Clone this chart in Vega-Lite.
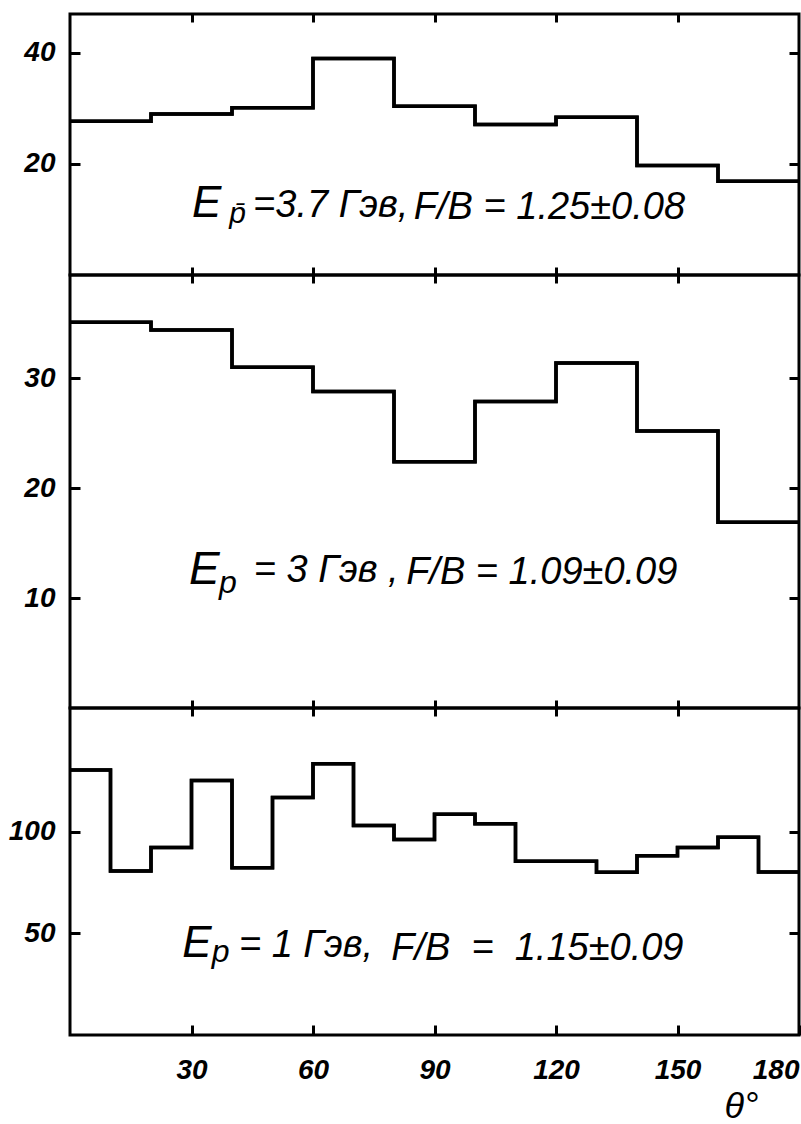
{
  "$schema": "https://vega.github.io/schema/vega-lite/v6.json",
  "background": "white",
  "padding": {"left": 6, "top": 11, "right": 0, "bottom": 12},
  "spacing": 0,
  "bounds": "flush",
  "datasets": {
    "top": [
      {"theta": 0, "n": 27.7}, {"theta": 20, "n": 29.0}, {"theta": 40, "n": 30.1},
      {"theta": 60, "n": 39.0}, {"theta": 80, "n": 30.4}, {"theta": 100, "n": 27.1},
      {"theta": 120, "n": 28.4}, {"theta": 140, "n": 19.7}, {"theta": 160, "n": 16.9},
      {"theta": 180, "n": 16.9}
    ],
    "mid": [
      {"theta": 0, "n": 35.1}, {"theta": 20, "n": 34.4}, {"theta": 40, "n": 31.0},
      {"theta": 60, "n": 28.8}, {"theta": 80, "n": 22.4}, {"theta": 100, "n": 27.9},
      {"theta": 120, "n": 31.4}, {"theta": 140, "n": 25.2}, {"theta": 160, "n": 16.9},
      {"theta": 180, "n": 16.9}
    ],
    "bot": [
      {"theta": 0, "n": 130.5}, {"theta": 10, "n": 80.7}, {"theta": 20, "n": 92.3},
      {"theta": 30, "n": 125.3}, {"theta": 40, "n": 82.3}, {"theta": 50, "n": 116.9},
      {"theta": 60, "n": 133.6}, {"theta": 70, "n": 103.1}, {"theta": 80, "n": 96.3},
      {"theta": 90, "n": 108.7}, {"theta": 100, "n": 104.0}, {"theta": 110, "n": 85.5},
      {"theta": 120, "n": 85.5}, {"theta": 130, "n": 80.1}, {"theta": 140, "n": 88.3},
      {"theta": 150, "n": 92.3}, {"theta": 160, "n": 97.4}, {"theta": 170, "n": 80.3},
      {"theta": 180, "n": 80.3}
    ]
  },
  "config": {
    "view": {"stroke": "black", "strokeWidth": 3},
    "axis": {
      "grid": false, "domain": false, "tickColor": "black", "tickWidth": 3,
      "labelColor": "black", "labelFont": "Liberation Sans",
      "labelFontSize": 28, "labelFontStyle": "italic", "labelFontWeight": "bold"
    },
    "text": {"font": "Liberation Sans", "fontStyle": "italic", "color": "black", "align": "left", "baseline": "alphabetic"}
  },
  "vconcat": [
    {
      "width": 729, "height": 261,
      "layer": [
        {
          "data": {"name": "top"},
          "mark": {"type": "line", "interpolate": "step-after", "color": "black", "strokeWidth": 3.5, "strokeJoin": "miter"},
          "encoding": {
            "x": {"field": "theta", "type": "quantitative", "scale": {"domain": [0, 180], "nice": false, "zero": false},
                  "axis": {"orient": "bottom", "values": [30, 60, 90, 120, 150], "labels": false, "tickSize": -8, "title": null}},
            "y": {"field": "n", "type": "quantitative", "scale": {"domain": [0, 47], "nice": false},
                  "axis": {"orient": "left", "values": [20, 40], "tickSize": -10, "labelPadding": 25, "title": null}}
          }
        },
        {
          "data": {"name": "top"},
          "mark": {"type": "line", "interpolate": "step-after", "color": "black", "strokeWidth": 3.5, "strokeJoin": "miter"},
          "encoding": {
            "x": {"field": "theta", "type": "quantitative", "scale": {"domain": [0, 180], "nice": false, "zero": false},
                  "axis": {"orient": "top", "values": [30, 60, 90, 120, 150], "labels": false, "tickSize": -8, "title": null}},
            "y": {"field": "n", "type": "quantitative", "scale": {"domain": [0, 47], "nice": false},
                  "axis": {"orient": "right", "values": [20, 40], "labels": false, "tickSize": -10, "title": null}}
          }
        },
        {
          "data": {"values": [{}]},
          "mark": {"type": "text", "text": "E", "fontSize": 44},
          "encoding": {"x": {"datum": 30.1, "type": "quantitative", "axis": null}, "y": {"datum": 10.45, "type": "quantitative", "axis": null}}
        },
        {
          "data": {"values": [{}]},
          "mark": {"type": "text", "text": "p̄", "fontSize": 30},
          "encoding": {"x": {"datum": 39.3, "type": "quantitative", "axis": null}, "y": {"datum": 9.4, "type": "quantitative", "axis": null}}
        },
        {
          "data": {"values": [{}]},
          "mark": {"type": "text", "text": "=3.7 Гэв,", "fontSize": 38},
          "encoding": {"x": {"datum": 45.2, "type": "quantitative", "axis": null}, "y": {"datum": 10.45, "type": "quantitative", "axis": null}}
        },
        {
          "data": {"values": [{}]},
          "mark": {"type": "text", "text": "F/B = 1.25±0.08", "fontSize": 38},
          "encoding": {"x": {"datum": 84.9, "type": "quantitative", "axis": null}, "y": {"datum": 10.1, "type": "quantitative", "axis": null}}
        }
      ],
      "resolve": {"axis": {"x": "independent", "y": "independent"}}
    },
    {
      "width": 729, "height": 433,
      "layer": [
        {
          "data": {"name": "mid"},
          "mark": {"type": "line", "interpolate": "step-after", "color": "black", "strokeWidth": 3.5, "strokeJoin": "miter"},
          "encoding": {
            "x": {"field": "theta", "type": "quantitative", "scale": {"domain": [0, 180], "nice": false, "zero": false},
                  "axis": {"orient": "bottom", "values": [30, 60, 90, 120, 150], "labels": false, "tickSize": -8, "title": null}},
            "y": {"field": "n", "type": "quantitative", "scale": {"domain": [0, 39.4], "nice": false},
                  "axis": {"orient": "left", "values": [10, 20, 30], "tickSize": -10, "labelPadding": 25, "title": null}}
          }
        },
        {
          "data": {"name": "mid"},
          "mark": {"type": "line", "interpolate": "step-after", "color": "black", "strokeWidth": 3.5, "strokeJoin": "miter"},
          "encoding": {
            "x": {"field": "theta", "type": "quantitative", "scale": {"domain": [0, 180], "nice": false, "zero": false},
                  "axis": {"orient": "top", "values": [30, 60, 90, 120, 150], "labels": false, "tickSize": -8, "title": null}},
            "y": {"field": "n", "type": "quantitative", "scale": {"domain": [0, 39.4], "nice": false},
                  "axis": {"orient": "right", "values": [10, 20, 30], "labels": false, "tickSize": -10, "title": null}}
          }
        },
        {
          "data": {"values": [{}]},
          "mark": {"type": "text", "text": "E", "fontSize": 46},
          "encoding": {"x": {"datum": 29.4, "type": "quantitative", "axis": null}, "y": {"datum": 11.3, "type": "quantitative", "axis": null}}
        },
        {
          "data": {"values": [{}]},
          "mark": {"type": "text", "text": "p", "fontSize": 32},
          "encoding": {"x": {"datum": 36.8, "type": "quantitative", "axis": null}, "y": {"datum": 10.5, "type": "quantitative", "axis": null}}
        },
        {
          "data": {"values": [{}]},
          "mark": {"type": "text", "text": "= 3 Гэв ,", "fontSize": 38},
          "encoding": {"x": {"datum": 45.4, "type": "quantitative", "axis": null}, "y": {"datum": 11.45, "type": "quantitative", "axis": null}}
        },
        {
          "data": {"values": [{}]},
          "mark": {"type": "text", "text": "F/B = 1.09±0.09", "fontSize": 38},
          "encoding": {"x": {"datum": 83, "type": "quantitative", "axis": null}, "y": {"datum": 11.3, "type": "quantitative", "axis": null}}
        }
      ],
      "resolve": {"axis": {"x": "independent", "y": "independent"}}
    },
    {
      "width": 729, "height": 327,
      "layer": [
        {
          "data": {"name": "bot"},
          "mark": {"type": "line", "interpolate": "step-after", "color": "black", "strokeWidth": 3.5, "strokeJoin": "miter"},
          "encoding": {
            "x": {"field": "theta", "type": "quantitative", "scale": {"domain": [0, 180], "nice": false, "zero": false},
                  "axis": {"orient": "bottom", "values": [30, 60, 90, 120, 150, 180], "labelFlush": true, "tickSize": -10, "labelPadding": 31,
                           "title": "θ°", "titleFont": "Liberation Sans", "titleFontSize": 36, "titleFontStyle": "italic", "titleFontWeight": "normal",
                           "titleX": 654, "titleY": 82, "titleAlign": "left", "titleBaseline": "alphabetic", "titleColor": "black"}},
            "y": {"field": "n", "type": "quantitative", "scale": {"domain": [0, 161], "nice": false},
                  "axis": {"orient": "left", "values": [50, 100], "tickSize": -10, "labelPadding": 25, "title": null}}
          }
        },
        {
          "data": {"name": "bot"},
          "mark": {"type": "line", "interpolate": "step-after", "color": "black", "strokeWidth": 3.5, "strokeJoin": "miter"},
          "encoding": {
            "x": {"field": "theta", "type": "quantitative", "scale": {"domain": [0, 180], "nice": false, "zero": false},
                  "axis": {"orient": "top", "values": [30, 60, 90, 120, 150], "labels": false, "tickSize": -8, "title": null}},
            "y": {"field": "n", "type": "quantitative", "scale": {"domain": [0, 161], "nice": false},
                  "axis": {"orient": "right", "values": [50, 100], "labels": false, "tickSize": -10, "title": null}}
          }
        },
        {
          "data": {"values": [{}]},
          "mark": {"type": "text", "text": "E", "fontSize": 44},
          "encoding": {"x": {"datum": 27.7, "type": "quantitative", "axis": null}, "y": {"datum": 38.4, "type": "quantitative", "axis": null}}
        },
        {
          "data": {"values": [{}]},
          "mark": {"type": "text", "text": "p", "fontSize": 32},
          "encoding": {"x": {"datum": 35.0, "type": "quantitative", "axis": null}, "y": {"datum": 35.9, "type": "quantitative", "axis": null}}
        },
        {
          "data": {"values": [{}]},
          "mark": {"type": "text", "text": "= 1 Гэв,", "fontSize": 38},
          "encoding": {"x": {"datum": 41.7, "type": "quantitative", "axis": null}, "y": {"datum": 38.4, "type": "quantitative", "axis": null}}
        },
        {
          "data": {"values": [{}]},
          "mark": {"type": "text", "text": "F/B\u00a0 =\u00a0 1.15±0.09", "fontSize": 38},
          "encoding": {"x": {"datum": 79.3, "type": "quantitative", "axis": null}, "y": {"datum": 36.9, "type": "quantitative", "axis": null}}
        }
      ],
      "resolve": {"axis": {"x": "independent", "y": "independent"}}
    }
  ]
}
